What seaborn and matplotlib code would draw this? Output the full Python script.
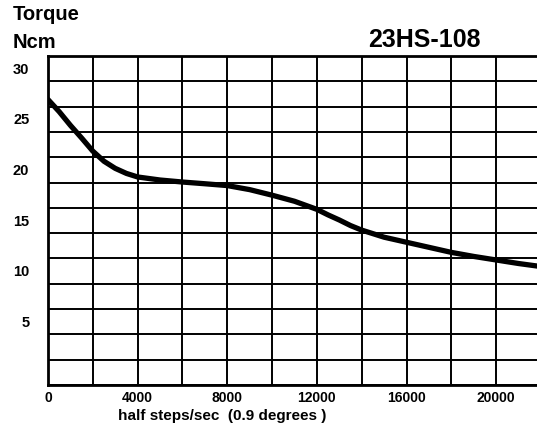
import numpy as np
import pandas as pd
import matplotlib as mpl
import matplotlib.pyplot as plt
import matplotlib.ticker as ticker
from matplotlib.transforms import ScaledTranslation
import seaborn as sns

# data
speed = [0, 500, 1000, 1500, 2000, 2500, 3000, 3500, 4000, 5000, 6000, 7000, 8000,
         9000, 10000, 11000, 12000, 12500, 13000, 13500, 14000, 15000, 16000,
         17000, 18000, 19000, 20000, 21000, 22000]
torque = [28.2, 27.0, 25.65, 24.4, 23.1, 22.1, 21.4, 20.9, 20.55, 20.25, 20.05, 19.88, 19.7,
          19.3, 18.75, 18.15, 17.35, 16.8, 16.3, 15.75, 15.3, 14.6, 14.1,
          13.6, 13.1, 12.7, 12.35, 12.0, 11.7]
x_ticks = [0, 4000, 8000, 12000, 16000, 20000]
y_ticks = [5, 10, 15, 20, 25, 30]

df = pd.DataFrame({'speed': speed, 'torque': torque})

sns.set_style('white')
mpl.rcParams['font.family'] = ['Liberation Sans', 'DejaVu Sans']
mpl.rcParams['font.weight'] = 'bold'
mpl.rcParams['text.color'] = 'black'
mpl.rcParams['xtick.color'] = 'black'
mpl.rcParams['ytick.color'] = 'black'
mpl.rcParams['axes.labelcolor'] = 'black'

fig = plt.figure(figsize=(5.37, 4.30), dpi=100)
ax = fig.add_axes([48 / 537, 45 / 430, 493 / 537, 329 / 430])

sns.lineplot(data=df, x='speed', y='torque', ax=ax, color='black', linewidth=3.8)

ax.set_xlim(0, 22000)
ax.set_ylim(0, 32.5)

# grid
ax.xaxis.set_minor_locator(ticker.MultipleLocator(2000))
ax.yaxis.set_minor_locator(ticker.MultipleLocator(2.5))
ax.grid(which='both', color='black', linewidth=1.4)
ax.set_axisbelow(True)

ax.set_xticks(x_ticks)
ax.set_yticks(y_ticks)
ax.tick_params(axis='x', which='both', length=0, pad=4, labelsize=10)
ax.tick_params(axis='y', which='major', length=5, width=1.4, pad=8.5, labelsize=10.5, direction='out')
ax.tick_params(axis='y', which='minor', length=0)
for lab in ax.get_xticklabels() + ax.get_yticklabels():
    lab.set_fontweight('bold')
# y labels sit above their ticks
off = ScaledTranslation(0, 13 / 100, fig.dpi_scale_trans)
for lab in ax.get_yticklabels():
    lab.set_transform(lab.get_transform() + off)

for side in ['left', 'bottom', 'top']:
    ax.spines[side].set_linewidth(2)
    ax.spines[side].set_color('black')
ax.spines['right'].set_visible(False)

ax.set_xlabel('half steps/sec  (0.9 degrees )', fontsize=11, fontweight='bold')
ax.xaxis.set_label_coords(0.353, -0.072)
ax.set_ylabel('')

fig.text(13 / 537, 1 - 14 / 430, 'Torque', fontsize=14.5, fontweight='bold', va='center', ha='left')
fig.text(13 / 537, 1 - 43 / 430, 'Ncm', fontsize=14.5, fontweight='bold', va='center', ha='left')
fig.text(424 / 537, 1 - 40 / 430, '23HS-108', fontsize=18, fontweight='bold', va='center', ha='center')

fig.savefig('out.png', dpi=100)
